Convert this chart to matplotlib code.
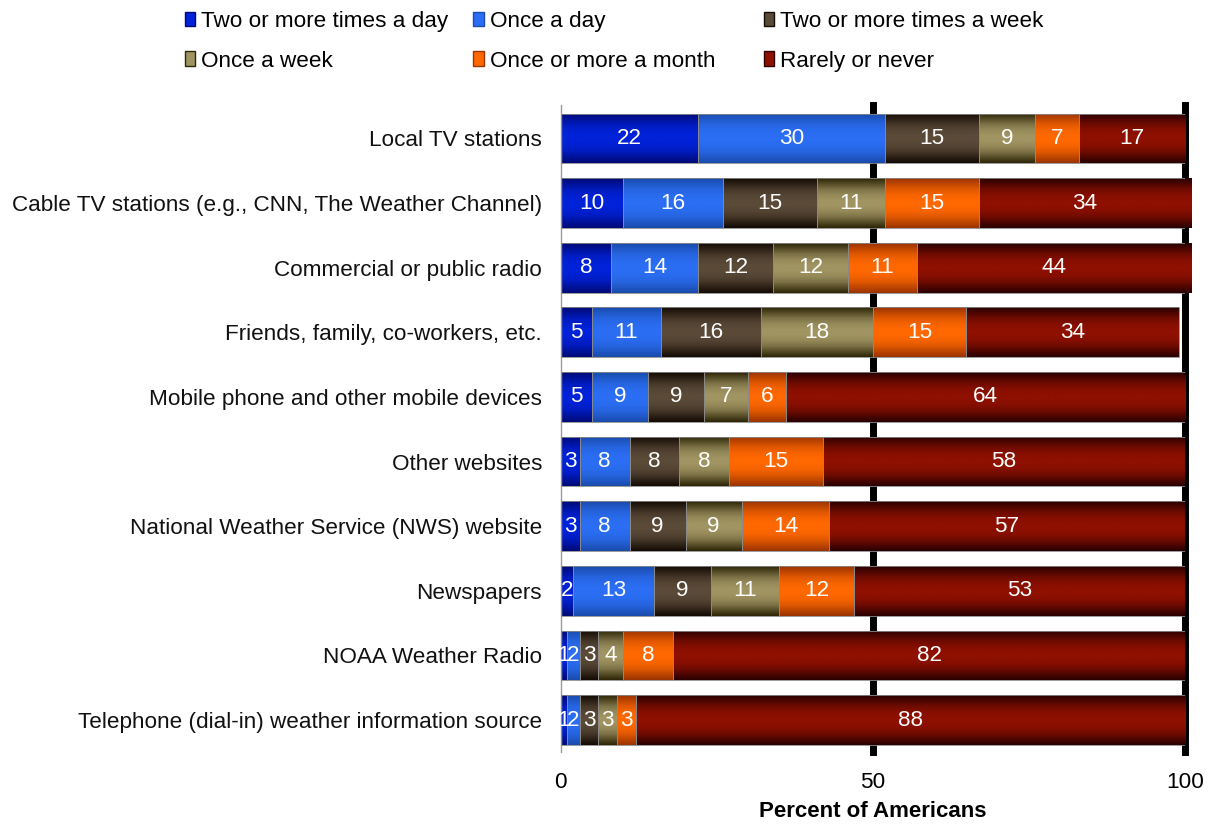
import numpy as np
import matplotlib
matplotlib.use("Agg")
import matplotlib.pyplot as plt
from matplotlib.colors import LinearSegmentedColormap
from matplotlib.patches import Patch

plt.rcParams["font.family"] = ["Liberation Sans", "DejaVu Sans"]

# ── data ─────────────────────────────────────────────────────────────────────
sources = [
    "Local TV stations",
    "Cable TV stations (e.g., CNN, The Weather Channel)",
    "Commercial or public radio",
    "Friends, family, co-workers, etc.",
    "Mobile phone and other mobile devices",
    "Other websites",
    "National Weather Service (NWS) website",
    "Newspapers",
    "NOAA Weather Radio",
    "Telephone (dial-in) weather information source",
]
series = [
    "Two or more times a day", "Once a day", "Two or more times a week",
    "Once a week", "Once or more a month", "Rarely or never",
]
two_plus_day = [22, 10, 8, 5, 5, 3, 3, 2, 1, 1]
once_day = [30, 16, 14, 11, 9, 8, 8, 13, 2, 2]
two_plus_week = [15, 15, 12, 16, 9, 8, 9, 9, 3, 3]
once_week = [9, 11, 12, 18, 7, 8, 9, 11, 4, 3]
monthly = [7, 15, 11, 15, 6, 15, 14, 12, 8, 3]
rarely = [17, 34, 44, 34, 64, 58, 57, 53, 82, 88]
values = [two_plus_day, once_day, two_plus_week, once_week, monthly, rarely]

# (edge, centre) colours of the vertical gradient for each series
shades = [
    ("#000a78", "#0022d8"),
    ("#1a4cae", "#2b6ef4"),
    ("#140b04", "#5a4a38"),
    ("#2e2608", "#a09462"),
    ("#9c3400", "#ff6800"),
    ("#2a0000", "#8e1000"),
]

FS = 16.2

fig = plt.figure(figsize=(12.14, 8.25), dpi=100)
ax = fig.add_axes([0.462, 0.088, 0.514, 0.785])

y = np.arange(len(sources))
grad = np.array([0, 0.35, 0.7, 0.9, 1, 1, 0.9, 0.7, 0.35, 0])
grad = np.interp(np.linspace(0, 9, 60), np.arange(10), grad).reshape(-1, 1)

left = np.zeros(len(sources))
for vals, (edge, mid), name in zip(values, shades, series):
    vals = np.array(vals, float)
    cmap = LinearSegmentedColormap.from_list(name, [edge, mid])
    bars = ax.barh(y, vals, left=left, height=0.77, facecolor="none",
                   edgecolor="#8a8a8a", linewidth=0.6, zorder=3)
    for b in bars:
        x0, y0 = b.get_x(), b.get_y()
        im = ax.imshow(grad, cmap=cmap, vmin=0, vmax=1, aspect="auto",
                       extent=[x0, x0 + b.get_width(), y0 + b.get_height(), y0],
                       interpolation="bilinear", zorder=2)
        im.set_clip_path(b)
    for yi, (l, v) in enumerate(zip(left, vals)):
        ax.text(l + v / 2, yi, f"{v:g}", ha="center", va="center",
                color="white", fontsize=FS, zorder=4)
    left += vals

for xv in (50, 100):
    ax.axvline(xv, color="black", lw=5, zorder=1, clip_on=False)

ax.set_xlim(0, 100)
ax.set_ylim(9.5, -0.52)
ax.set_yticks(y)
ax.set_yticklabels(sources, fontsize=FS, color="#111111")
ax.set_xticks([0, 50, 100])
ax.tick_params(axis="x", labelsize=FS, length=0, pad=14)
ax.tick_params(axis="y", length=0, pad=13.5)
ax.set_xlabel("Percent of Americans", fontsize=16, fontweight="bold", labelpad=6)
for s in ("top", "right", "bottom"):
    ax.spines[s].set_visible(False)
ax.spines["left"].set_color("#9a9a9a")
ax.spines["left"].set_linewidth(1.0)

# legend: three columns, two rows
col_x = [0.152, 0.390, 0.629]
row_y = [0.974, 0.926]
for i, (name, (edge, mid)) in enumerate(zip(series, shades)):
    h = Patch(facecolor=mid, edgecolor=edge, linewidth=1)
    fig.legend(handles=[h], labels=[name], loc="center left",
               bbox_to_anchor=(col_x[i % 3], row_y[i // 3]), frameon=False,
               fontsize=FS, handlelength=0.45, handleheight=0.6,
               handletextpad=0.3, borderpad=0, borderaxespad=0)

fig.savefig("out.png", dpi=100)
